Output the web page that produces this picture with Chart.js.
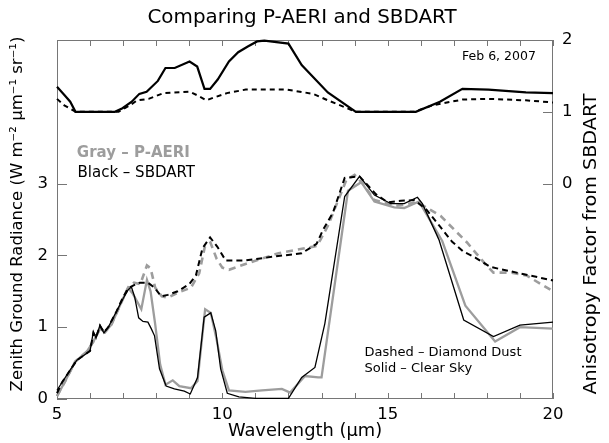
<!DOCTYPE html>
<html>
<head>
<meta charset="utf-8">
<title>Comparing P-AERI and SBDART</title>
<script src="https://cdn.jsdelivr.net/npm/chart.js@4.4.1/dist/chart.umd.min.js"></script>
<style>
  html, body { margin: 0; padding: 0; background: #fff; }
  canvas { display: block; }
</style>
</head>
<body>
<canvas id="chart" width="609" height="443"></canvas>
<script>
// ---- Zenith ground radiance, SBDART, clear sky (black solid) ----
const wlSbdartClear = [5.0, 5.15, 5.35, 5.6, 5.85, 6.0, 6.1, 6.18, 6.3, 6.42, 6.55, 6.8, 7.0, 7.15, 7.25, 7.35, 7.47, 7.6, 7.75, 7.85, 7.95, 8.1, 8.3, 8.55, 8.85, 9.03, 9.25, 9.45, 9.65, 9.8, 9.95, 10.15, 10.5, 11.0, 12.0, 12.4, 12.8, 13.1, 13.7, 14.15, 14.6, 15.1, 15.5, 15.9, 16.05, 16.55, 17.3, 18.2, 19.0, 20.0];
const radSbdartClear = [0.12, 0.23, 0.37, 0.54, 0.62, 0.67, 0.94, 0.85, 1.03, 0.92, 1.0, 1.22, 1.4, 1.52, 1.56, 1.42, 1.13, 1.08, 1.07, 0.98, 0.88, 0.42, 0.18, 0.14, 0.11, 0.07, 0.3, 1.14, 1.2, 0.95, 0.42, 0.08, 0.03, 0.01, 0.01, 0.3, 0.44, 1.05, 2.82, 3.1, 2.84, 2.72, 2.72, 2.81, 2.72, 2.22, 1.1, 0.87, 1.03, 1.07];

// ---- Zenith ground radiance, P-AERI, clear sky (gray solid) ----
const wlAeriClear = [5.0, 5.25, 5.55, 5.9, 6.1, 6.3, 6.45, 6.65, 6.9, 7.15, 7.3, 7.42, 7.55, 7.72, 7.83, 7.97, 8.12, 8.28, 8.5, 8.7, 9.05, 9.25, 9.48, 9.65, 9.83, 10.0, 10.2, 10.7, 11.2, 11.8, 12.05, 12.5, 12.9, 13.0, 13.8, 14.2, 14.6, 15.2, 15.5, 15.95, 16.65, 17.35, 18.25, 19.0, 20.0];
const radAeriClear = [0.04, 0.25, 0.52, 0.66, 0.8, 0.98, 0.93, 1.04, 1.3, 1.55, 1.46, 1.36, 1.25, 1.66, 1.5, 1.04, 0.48, 0.2, 0.26, 0.18, 0.15, 0.25, 1.25, 1.2, 0.82, 0.4, 0.12, 0.1, 0.12, 0.14, 0.09, 0.32, 0.3, 0.3, 2.9, 3.02, 2.75, 2.67, 2.66, 2.75, 2.2, 1.3, 0.8, 1.0, 0.98];

// ---- Zenith ground radiance, SBDART, diamond dust (black dashed) ----
const wlSbdartDust = [5.0, 5.15, 5.35, 5.6, 5.85, 6.0, 6.1, 6.18, 6.3, 6.42, 6.55, 6.8, 7.0, 7.15, 7.3, 7.5, 7.75, 7.95, 8.15, 8.35, 8.65, 9.0, 9.2, 9.4, 9.63, 9.85, 10.1, 10.7, 11.5, 12.4, 12.85, 13.05, 13.35, 13.7, 14.15, 14.65, 15.0, 15.4, 15.8, 16.15, 16.55, 16.95, 17.3, 17.65, 18.1, 19.0, 20.0];
const radSbdartDust = [0.08, 0.23, 0.37, 0.54, 0.62, 0.67, 0.92, 0.86, 1.02, 0.93, 1.0, 1.22, 1.42, 1.54, 1.58, 1.62, 1.62, 1.55, 1.43, 1.45, 1.5, 1.6, 1.72, 2.1, 2.25, 2.12, 1.93, 1.93, 1.98, 2.03, 2.16, 2.36, 2.6, 3.08, 3.1, 2.85, 2.74, 2.76, 2.77, 2.65, 2.42, 2.19, 2.05, 1.97, 1.84, 1.75, 1.65];

// ---- Zenith ground radiance, P-AERI, diamond dust (gray dashed) ----
const wlAeriDust = [5.0, 5.25, 5.55, 5.9, 6.1, 6.3, 6.45, 6.65, 6.9, 7.15, 7.33, 7.52, 7.72, 7.83, 7.97, 8.17, 8.35, 8.65, 9.05, 9.3, 9.47, 9.64, 9.83, 10.0, 10.2, 10.7, 11.7, 12.5, 12.85, 12.97, 13.2, 13.75, 14.0, 14.25, 14.6, 15.25, 15.9, 16.6, 17.4, 17.95, 18.2, 18.75, 19.2, 20.0];
const radAeriDust = [0.04, 0.25, 0.52, 0.66, 0.8, 0.98, 0.93, 1.04, 1.3, 1.55, 1.62, 1.6, 1.86, 1.82, 1.55, 1.43, 1.41, 1.48, 1.55, 1.75, 2.12, 2.18, 1.95, 1.83, 1.8, 1.88, 2.03, 2.1, 2.13, 2.22, 2.42, 3.05, 3.12, 3.0, 2.77, 2.69, 2.74, 2.55, 2.18, 1.88, 1.76, 1.76, 1.72, 1.5];

// ---- Anisotropy factor from SBDART (right axis) ----
const wlAnisoClear = [5.0, 5.23, 5.4, 5.56, 6.75, 6.98, 7.26, 7.49, 7.71, 8.05, 8.28, 8.56, 9.01, 9.24, 9.46, 9.63, 9.86, 10.2, 10.48, 10.77, 11.05, 11.27, 12.0, 12.4, 13.19, 14.04, 15.85, 16.58, 17.26, 18.05, 19.18, 20.0];
const anisoClear = [1.35, 1.23, 1.14, 1.0, 1.0, 1.05, 1.14, 1.25, 1.28, 1.43, 1.61, 1.61, 1.70, 1.63, 1.32, 1.32, 1.45, 1.70, 1.83, 1.91, 1.98, 1.99, 1.95, 1.65, 1.27, 1.0, 1.0, 1.14, 1.32, 1.31, 1.27, 1.26];
const wlAnisoDust = [5.0, 5.22, 5.56, 6.86, 7.2, 7.43, 7.77, 8.22, 9.01, 9.24, 9.52, 9.75, 10.14, 10.71, 11.95, 12.74, 13.19, 14.04, 15.8, 16.36, 17.26, 18.05, 19.18, 20.0];
const anisoDust = [1.18, 1.09, 1.0, 1.0, 1.09, 1.16, 1.18, 1.26, 1.28, 1.23, 1.16, 1.2, 1.26, 1.31, 1.31, 1.25, 1.16, 1.0, 1.0, 1.09, 1.17, 1.18, 1.16, 1.13];

// ---- Axis ticks ----
const xMinorTicks = [5, 6, 7, 8, 9, 10, 11, 12, 13, 14, 15, 16, 17, 18, 19, 20];
const radianceTicks = [0, 1, 2, 3];
const anisoTicks = [0, 1, 2];

const FONT = '"DejaVu Sans", "Liberation Sans", sans-serif';
const GRAY = '#9d9d9d';
const FRAME = '#767676';

const pts = (xs, ys) => xs.map((v, i) => ({ x: v, y: ys[i] }));

function drawText(ctx, text, x, y, o) {
  ctx.save();
  ctx.translate(x, y);
  if (o.rotate) ctx.rotate(o.rotate);
  ctx.scale(o.stretch || 1, 1);
  ctx.font = `${o.weight || 'normal'} ${o.size}px ${FONT}`;
  ctx.fillStyle = o.color || '#000';
  ctx.textAlign = o.align || 'center';
  ctx.textBaseline = 'middle';
  ctx.fillText(text, 0, 0);
  ctx.restore();
}

// Frame with inward tick marks
const framePlugin = {
  id: 'frame',
  beforeDatasetsDraw(chart) {
    const { ctx, chartArea: a, scales } = chart;
    const { x, y, y2 } = scales;
    ctx.save();
    ctx.strokeStyle = FRAME;
    ctx.lineWidth = 1;
    ctx.strokeRect(a.left + 0.5, a.top + 0.5, a.right - a.left - 1, a.bottom - a.top - 1);
    ctx.beginPath();
    xMinorTicks.forEach(v => {
      const px = Math.round(x.getPixelForValue(v)) + 0.5;
      ctx.moveTo(px, a.bottom); ctx.lineTo(px, a.bottom - 6);
      ctx.moveTo(px, a.top); ctx.lineTo(px, a.top + 6);
    });
    radianceTicks.forEach(v => {
      const py = Math.round(y.getPixelForValue(v)) + 0.5;
      ctx.moveTo(a.left, py); ctx.lineTo(a.left + 10, py);
    });
    anisoTicks.forEach(v => {
      const py = Math.round(y2.getPixelForValue(v)) + 0.5;
      ctx.moveTo(a.right, py); ctx.lineTo(a.right - 10, py);
    });
    ctx.stroke();
    ctx.restore();
  }
};

// Titles and in-plot notes
const textPlugin = {
  id: 'texts',
  afterDraw(chart) {
    const { ctx, chartArea: a, scales } = chart;
    const { x, y } = scales;
    const cx = (a.left + a.right) / 2;
    drawText(ctx, 'Comparing P-AERI and SBDART', cx - 3, 18, { size: 19.5, stretch: 1.02 });
    drawText(ctx, 'Wavelength (\u03bcm)', cx, 432, { size: 17, stretch: 1.05 });
    drawText(ctx, 'Zenith Ground Radiance (W m\u207b\u00b2 \u03bcm\u207b\u00b9 sr\u207b\u00b9)', 18, 214,
      { size: 16.5, rotate: -Math.PI / 2 });
    drawText(ctx, 'Anisotropy Factor from SBDART', 592, 244,
      { size: 17, rotate: -Math.PI / 2, stretch: 1.13 });

    drawText(ctx, 'Feb 6, 2007', x.getPixelForValue(17.25), y.getPixelForValue(4.76), { size: 12.5, align: 'left' });
    drawText(ctx, 'Gray \u2013 P-AERI', x.getPixelForValue(5.6), y.getPixelForValue(3.42), { size: 15, align: 'left', color: GRAY, weight: 'bold' });
    drawText(ctx, 'Black \u2013 SBDART', x.getPixelForValue(5.62), y.getPixelForValue(3.14), { size: 15, align: 'left' });
    drawText(ctx, 'Dashed \u2013 Diamond Dust', x.getPixelForValue(14.3), y.getPixelForValue(0.65), { size: 13, align: 'left' });
    drawText(ctx, 'Solid \u2013 Clear Sky', x.getPixelForValue(14.3), y.getPixelForValue(0.42), { size: 13, align: 'left' });
  }
};

const line = (data, color, width, dash, axis, order) => ({
  data, borderColor: color, borderWidth: width, borderDash: dash || [],
  pointRadius: 0, showLine: true, fill: false, tension: 0, yAxisID: axis,
  order, clip: 4
});

new Chart(document.getElementById('chart'), {
  type: 'scatter',
  data: {
    datasets: [
      line(pts(wlSbdartClear, radSbdartClear), '#000', 1.3, null, 'y', 0),
      line(pts(wlAeriClear, radAeriClear), GRAY, 2.3, null, 'y', 2),
      line(pts(wlSbdartDust, radSbdartDust), '#000', 2, [6, 4], 'y', 1),
      line(pts(wlAeriDust, radAeriDust), GRAY, 2.6, [7, 5], 'y', 3),
      line(pts(wlAnisoClear, anisoClear), '#000', 2.2, null, 'y2', 0),
      line(pts(wlAnisoDust, anisoDust), '#000', 2, [5, 4], 'y2', 1)
    ]
  },
  options: {
    responsive: false,
    animation: false,
    devicePixelRatio: 1,
    layout: { padding: { top: 40, left: 0, right: 0, bottom: 0 } },
    plugins: { legend: { display: false }, tooltip: { enabled: false }, title: { display: false } },
    scales: {
      x: {
        type: 'linear', position: 'bottom', min: 5, max: 20,
        grid: { display: false, drawTicks: false }, border: { display: false },
        ticks: { stepSize: 5, color: '#000', font: { family: FONT, size: 16.5 }, padding: 6, maxRotation: 0 },
        afterFit(s) { s.height = 44; }
      },
      y: {
        type: 'linear', position: 'left', min: 0, max: 5,
        grid: { display: false, drawTicks: false }, border: { display: false },
        ticks: { color: '#000', font: { family: FONT, size: 16.5 }, padding: 9 },
        afterBuildTicks(s) { s.ticks = radianceTicks.map(v => ({ value: v })); },
        afterFit(s) { s.width = 57; }
      },
      y2: {
        type: 'linear', position: 'right', min: -3, max: 2,
        grid: { display: false, drawTicks: false }, border: { display: false },
        ticks: { color: '#000', font: { family: FONT, size: 16.5 }, padding: 9 },
        afterBuildTicks(s) { s.ticks = anisoTicks.map(v => ({ value: v })); },
        afterFit(s) { s.width = 56; }
      }
    }
  },
  plugins: [framePlugin, textPlugin]
});
</script>
</body>
</html>
